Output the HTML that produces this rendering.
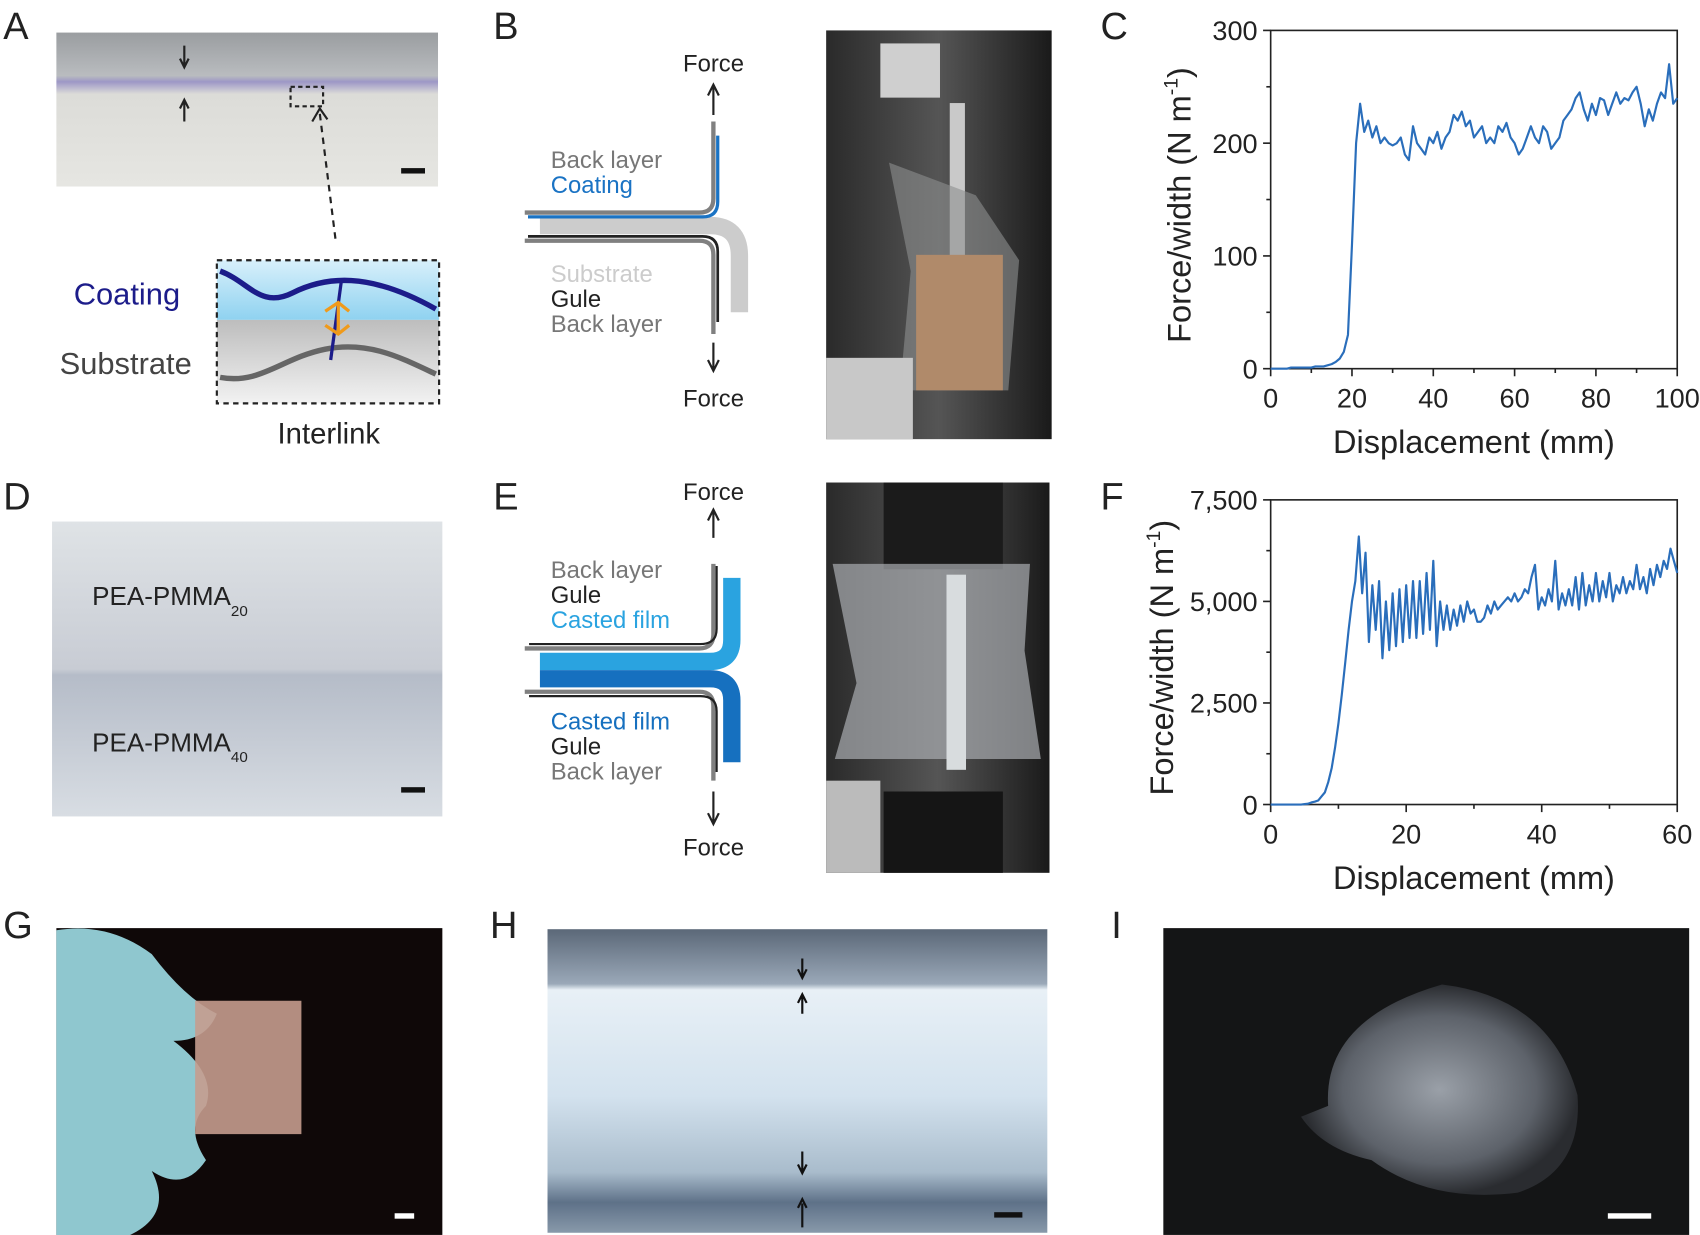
<!DOCTYPE html>
<html><head><meta charset="utf-8"><style>
html,body{margin:0;padding:0;background:#fff;}
svg{display:block;font-family:"Liberation Sans",Arial,sans-serif;}
</style></head><body>
<svg id="fig" width="1700" height="1235" viewBox="0 0 1568 1139" xmlns="http://www.w3.org/2000/svg">
<defs>
<linearGradient id="gA" x1="0" y1="0" x2="0" y2="1"><stop offset="0" stop-color="#9a9da0"/><stop offset="0.28" stop-color="#b9bcbf"/><stop offset="0.32" stop-color="#9d97c6"/><stop offset="0.4" stop-color="#dcdcd8"/><stop offset="1" stop-color="#e6e6e2"/></linearGradient>
<linearGradient id="gBlue" x1="0" y1="0" x2="0" y2="1"><stop offset="0" stop-color="#d8f0fb"/><stop offset="1" stop-color="#8fd2f0"/></linearGradient>
<linearGradient id="gGray" x1="0" y1="0" x2="0" y2="1"><stop offset="0" stop-color="#bdbdbd"/><stop offset="1" stop-color="#f2f2f2"/></linearGradient>
<linearGradient id="gD" x1="0" y1="0" x2="0" y2="1"><stop offset="0" stop-color="#dfe3e6"/><stop offset="0.5" stop-color="#c8ccd4"/><stop offset="0.52" stop-color="#b5bcc8"/><stop offset="1" stop-color="#d8dde3"/></linearGradient>
<linearGradient id="gH" x1="0" y1="0" x2="0" y2="1"><stop offset="0" stop-color="#5b6878"/><stop offset="0.18" stop-color="#9aa8b8"/><stop offset="0.2" stop-color="#e8f0f6"/><stop offset="0.55" stop-color="#d3e2ee"/><stop offset="0.8" stop-color="#a9bccc"/><stop offset="0.9" stop-color="#5e7188"/><stop offset="1" stop-color="#8899aa"/></linearGradient>
<linearGradient id="gB" x1="0" y1="0" x2="1" y2="0"><stop offset="0" stop-color="#2a2a2a"/><stop offset="0.5" stop-color="#555"/><stop offset="1" stop-color="#1a1a1a"/></linearGradient>
<radialGradient id="gI" cx="0.5" cy="0.5" r="0.5"><stop offset="0" stop-color="#9aa0a8"/><stop offset="0.7" stop-color="#5d626a"/><stop offset="1" stop-color="#2a2c30"/></radialGradient>
</defs>
<g font-size="35" fill="#222">
<text x="3" y="36">A</text><text x="455" y="36">B</text><text x="1015" y="36">C</text>
<text x="3" y="470">D</text><text x="455" y="470">E</text><text x="1015" y="470">F</text>
<text x="3" y="865">G</text><text x="452" y="865">H</text><text x="1025" y="865">I</text>
</g>
<g>
<rect x="52" y="30" width="352" height="142" fill="url(#gA)"/>
<path d="M170 42v18M166 54l4 8 4-8M170 112v-18M166 100l4-8 4 8" stroke="#222" stroke-width="2" fill="none"/>
<rect x="268" y="80" width="30" height="18" fill="none" stroke="#222" stroke-width="2" stroke-dasharray="4 3"/>
<rect x="370" y="155" width="22" height="5" fill="#111"/>
<path d="M295 105 L310 225" stroke="#222" stroke-width="2" stroke-dasharray="6 5"/>
<path d="M288 112l7-12 7 10" stroke="#222" stroke-width="2" fill="none"/>
</g>
<g>
<rect x="200" y="240" width="205" height="55" fill="url(#gBlue)"/>
<rect x="200" y="295" width="205" height="77" fill="url(#gGray)"/>
<rect x="200" y="240" width="205" height="132" fill="none" stroke="#222" stroke-width="2" stroke-dasharray="5 4"/>
<path d="M203 250 C230 260,240 285,270 270 S340 250,402 285" stroke="#1c1c8a" stroke-width="5" fill="none"/>
<path d="M203 348 C240 355,260 330,300 322 S370 330,402 345" stroke="#666" stroke-width="5" fill="none"/>
<path d="M315 258 L305 332" stroke="#1c1c8a" stroke-width="3"/>
<path d="M300 287l12-8 10 8M300 300l12 8 10-8M312 280v28" stroke="#f09a1a" stroke-width="3" fill="none"/>
</g>
<text x="68" y="281" font-size="28.5" fill="#1c1c8a">Coating</text>
<text x="55" y="345" font-size="28.5" fill="#444">Substrate</text>
<text x="256" y="409" font-size="27" fill="#222">Interlink</text>
<g>
<path d="M498 208 H655 Q682 208 682 236 V288" stroke="#ccc" stroke-width="16" fill="none"/>
<path d="M484 196 H645 Q658 196 658 183 V112" stroke="#808080" stroke-width="4" fill="none"/>
<path d="M487 200 H648 Q662 200 662 186 V125" stroke="#1a73c4" stroke-width="3" fill="none"/>
<path d="M484 222 H645 Q658 222 658 235 V308" stroke="#808080" stroke-width="4" fill="none"/>
<path d="M487 218 H648 Q662 218 662 232 V297" stroke="#222" stroke-width="2.5" fill="none"/>
<path d="M658 106V80M653 88l5-10 5 10M658 316v24M653 332l5 10 5-10" stroke="#222" stroke-width="2" fill="none"/>
</g>
<g font-size="22">
<text x="630" y="66" fill="#222">Force</text>
<text x="508" y="155" fill="#777">Back layer</text>
<text x="508" y="178" fill="#1a73c4">Coating</text>
<text x="508" y="260" fill="#ccc">Substrate</text>
<text x="508" y="283" fill="#222">Gule</text>
<text x="508" y="306" fill="#777">Back layer</text>
<text x="630" y="375" fill="#222">Force</text>
</g>
<g>
<rect x="762" y="28" width="208" height="377" fill="url(#gB)"/>
<rect x="812" y="40" width="55" height="50" fill="#cfcfcf"/>
<rect x="876" y="95" width="14" height="210" fill="#c9c9c9"/>
<path d="M820 150 L900 180 L940 240 L930 360 L830 360 L840 250 Z" fill="#8d8f90" opacity="0.6"/>
<rect x="845" y="235" width="80" height="125" fill="#b08a6a"/>
<rect x="762" y="330" width="80" height="75" fill="#c8c8c8"/>
</g>
<g>
<rect x="48" y="481" width="360" height="272" fill="url(#gD)"/>
<rect x="370" y="726" width="22" height="5" fill="#111"/>
<text x="85" y="558" font-size="24" fill="#222">PEA-PMMA<tspan font-size="14" dy="10">20</tspan></text>
<text x="85" y="693" font-size="24" fill="#222">PEA-PMMA<tspan font-size="14" dy="10">40</tspan></text>
</g>
<g>
<path d="M498 610 H655 Q675 610 675 590 V533" stroke="#2aa3e0" stroke-width="16" fill="none"/>
<path d="M498 626 H655 Q675 626 675 646 V703" stroke="#1670bf" stroke-width="16" fill="none"/>
<path d="M484 598 H645 Q658 598 658 585 V520" stroke="#808080" stroke-width="4" fill="none"/>
<path d="M488 594 H646 Q661 594 661 580 V522" stroke="#222" stroke-width="2" fill="none"/>
<path d="M484 638 H645 Q658 638 658 651 V720" stroke="#808080" stroke-width="4" fill="none"/>
<path d="M488 642 H646 Q661 642 661 656 V712" stroke="#222" stroke-width="2" fill="none"/>
<path d="M658 496V472M653 480l5-10 5 10M658 730v28M653 750l5 10 5-10" stroke="#222" stroke-width="2" fill="none"/>
</g>
<g font-size="22">
<text x="630" y="461" fill="#222">Force</text>
<text x="508" y="533" fill="#777">Back layer</text>
<text x="508" y="556" fill="#222">Gule</text>
<text x="508" y="579" fill="#2aa3e0">Casted film</text>
<text x="508" y="673" fill="#1670bf">Casted film</text>
<text x="508" y="696" fill="#222">Gule</text>
<text x="508" y="719" fill="#777">Back layer</text>
<text x="630" y="789" fill="#222">Force</text>
</g>
<g>
<rect x="762" y="445" width="206" height="360" fill="url(#gB)"/>
<rect x="815" y="445" width="110" height="80" fill="#1b1b1b"/>
<path d="M768 520 L950 520 L945 600 L960 700 L770 700 L790 630 Z" fill="#a9adb0" opacity="0.7"/>
<rect x="873" y="530" width="18" height="180" fill="#d8dcde"/>
<rect x="815" y="730" width="110" height="75" fill="#151515"/>
<rect x="762" y="720" width="50" height="85" fill="#bbb"/>
</g>
<g>
<rect x="52" y="856" width="356" height="283" fill="#0f0808"/>
<path d="M52 858 Q100 850 140 880 Q170 920 200 935 Q190 960 160 960 Q200 990 190 1020 Q170 1040 190 1070 Q170 1100 140 1080 Q160 1120 120 1139 L52 1139 Z" fill="#8fc7cf"/>
<rect x="180" y="923" width="98" height="123" fill="#c59c8e" opacity="0.9"/>
<rect x="364" y="1119" width="18" height="5" fill="#fff"/>
</g>
<g>
<rect x="505" y="857" width="461" height="280" fill="url(#gH)"/>
<path d="M740 884v16M736 894l4 8 4-8M740 935v-16M736 925l4-8 4 8M740 1062v18M736 1074l4 8 4-8M740 1132v-22M736 1114l4-8 4 8" stroke="#111" stroke-width="2" fill="none"/>
<rect x="917" y="1118" width="26" height="5" fill="#111"/>
</g>
<g>
<rect x="1073" y="856" width="485" height="283" fill="#141516"/>
<path d="M1225 1020 Q1220 940 1330 908 Q1430 920 1455 1010 Q1460 1080 1400 1100 Q1320 1110 1265 1070 Q1220 1060 1200 1030 Z" fill="url(#gI)"/>
<rect x="1483" y="1119" width="40" height="5" fill="#fff"/>
</g>
<g id="chartC"></g>
<g id="chartF"></g>
</svg>
<script>
const cX = [];
for (let i = 0; i <= 100; i++) cX.push(i);
const cY = [0,0,0,0,0,1,1,1,1,1,1,2,2,2,3,4,6,9,15,30,110,200,235,210,220,205,215,200,205,200,198,200,205,190,185,215,200,195,190,205,200,210,195,205,210,225,220,228,215,220,205,210,215,200,205,200,215,210,218,205,200,190,195,205,215,205,200,215,210,195,200,205,220,225,230,240,245,230,220,235,225,240,238,225,235,245,235,240,238,245,250,235,215,230,220,235,245,240,270,235,240];
const cXTicks = [0,20,40,60,80,100];
const cYTicks = [0,100,200,300];
const cYTickLabels = ["0","100","200","300"];
const fX = [];
for (let i = 0; i <= 120; i++) fX.push(i/2);
const fY = [0,0,0,0,0,0,0,0,0,0,10,20,50,70,100,200,300,550,900,1400,2000,2700,3500,4300,5000,5500,6600,5200,6200,4000,5400,4300,5500,3600,5000,3800,5200,3900,5300,4000,5400,4100,5500,4100,5500,4200,5700,4300,6000,3900,5000,4300,4900,4300,4800,4400,4900,4500,5000,4700,4800,4500,4500,4600,4900,4700,5000,4800,4900,5000,5100,5000,5200,5000,5100,5300,5200,5600,5900,4800,5100,4900,5300,5000,6000,4800,5200,4900,5300,4900,5600,4800,5700,4900,5400,5000,5700,5000,5500,5100,5700,5000,5400,5200,5600,5200,5500,5300,5900,5300,5600,5200,5800,5400,5900,5600,6000,5800,6300,6000,5700];
const fXTicks = [0,20,40,60];
const fYTicks = [0,2500,5000,7500];
const fYTickLabels = ["0","2,500","5,000","7,500"];
const NS = "http://www.w3.org/2000/svg";
function mk(parent, tag, attrs, txt) {
  const e = document.createElementNS(NS, tag);
  for (const k in attrs) e.setAttribute(k, attrs[k]);
  if (txt !== undefined) e.textContent = txt;
  parent.appendChild(e);
  return e;
}
function drawChart(g, xs, ys, box, xMax, yMax, xTicks, yTicks, yLabels) {
  const sx = v => box.l + (v / xMax) * (box.r - box.l);
  const sy = v => box.b - (v / yMax) * (box.b - box.t);
  const frame = mk(g, 'rect', {x: box.l, y: box.t, width: box.r - box.l, height: box.b - box.t, fill: 'none', stroke: '#222', 'stroke-width': 1.5});
  
  
  const xStep = xTicks[1] - xTicks[0];
  for (let v = 0; v <= xMax + 1e-9; v += xStep / 2) {
    const major = xTicks.some(t => Math.abs(t - v) < 1e-9);
    const tk = mk(g, 'line', {x1: sx(v), x2: sx(v), y1: box.b, y2: box.b + (major ? 7 : 4), stroke: '#222', 'stroke-width': 1.5});
    
    
  }
  xTicks.forEach(v => {
    const t = mk(g, 'text', {x: sx(v), y: box.b + 36, 'font-size': 25, 'text-anchor': 'middle', fill: '#222'}, String(v));
    
    
  });
  const yStep = yTicks[1] - yTicks[0];
  for (let v = 0; v <= yMax + 1e-9; v += yStep / 2) {
    const major = yTicks.some(t => Math.abs(t - v) < 1e-9);
    const tk = mk(g, 'line', {x1: box.l - (major ? 7 : 4), x2: box.l, y1: sy(v), y2: sy(v), stroke: '#222', 'stroke-width': 1.5});
    
    
  }
  yTicks.forEach((v, i) => {
    const t = mk(g, 'text', {x: box.l - 12, y: sy(v) + 9, 'font-size': 25, 'text-anchor': 'end', fill: '#222'}, yLabels[i]);
    
    
  });
  const xt = mk(g, 'text', {x: (box.l + box.r) / 2, y: box.b + 78, 'font-size': 30, 'text-anchor': 'middle', fill: '#222'}, 'Displacement (mm)');
  
  
  const cy = (box.t + box.b) / 2 + 5;
  const yt = mk(g, 'text', {x: box.yx, y: cy, 'font-size': 30, 'text-anchor': 'middle', fill: '#222', transform: `rotate(-90 ${box.yx} ${cy})`}, 'Force/width (N m');
  mk(yt, 'tspan', {'font-size': 18, dy: -12}, '-1');
  mk(yt, 'tspan', {dy: 12}, ')');
  
  
  let d = '';
  xs.forEach((x, i) => { d += (i ? 'L' : 'M') + sx(x).toFixed(1) + ' ' + sy(ys[i]).toFixed(1); });
  const p = mk(g, 'path', {d: d, fill: 'none', stroke: '#2a6ebb', 'stroke-width': 2, 'stroke-linejoin': 'round'});
  
  
}
drawChart(document.getElementById('chartC'), cX, cY, {l: 1172, r: 1547, t: 28, b: 340, yx: 1098}, 100, 300, cXTicks, cYTicks, cYTickLabels);
drawChart(document.getElementById('chartF'), fX, fY, {l: 1172, r: 1547, t: 461, b: 742, yx: 1082}, 60, 7500, fXTicks, fYTicks, fYTickLabels);
</script>
</body></html>
